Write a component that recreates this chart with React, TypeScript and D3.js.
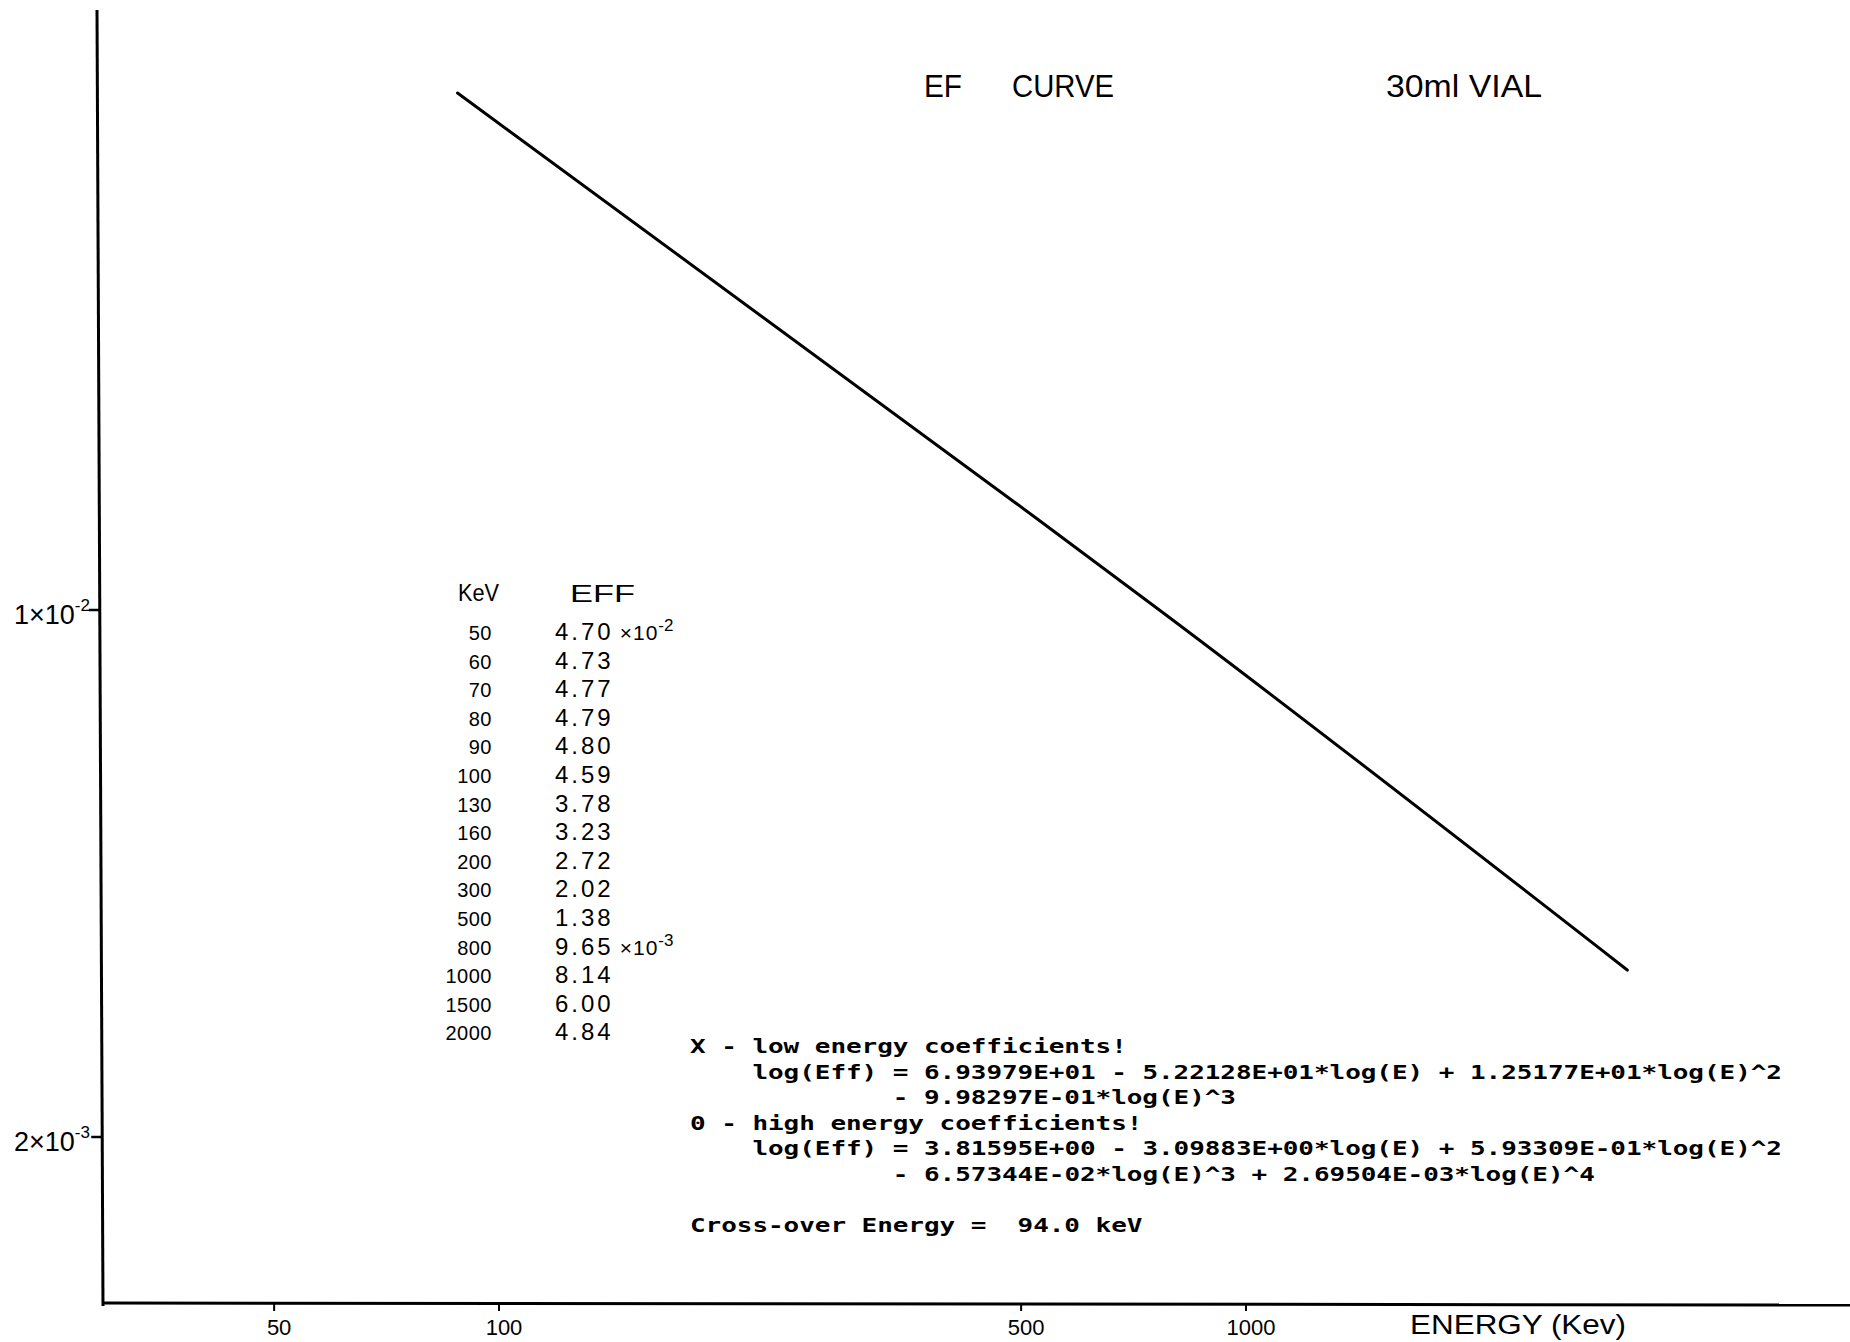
import React from "react";
import * as d3 from "d3";

// ---- data ----
const xTickValues = [50, 100, 500, 1000];
const xTickLabels = ["50", "100", "500", "1000"];

const yTickValues = [0.01, 0.002];
const yTickMantissa = ["1", "2"];
const yTickExponent = ["-2", "-3"];

// plotted efficiency curve (keV, efficiency)
const curveKeV = [88, 490, 772, 3240];
const curveEff = [0.0485, 0.0139, 0.00994, 0.00333];

// hand-written table
const tableKeV = [50, 60, 70, 80, 90, 100, 130, 160, 200, 300, 500, 800, 1000, 1500, 2000];
const tableEff = [4.7, 4.73, 4.77, 4.79, 4.8, 4.59, 3.78, 3.23, 2.72, 2.02, 1.38, 9.65, 8.14, 6.0, 4.84];
const tableExpRows = [0, 11];
const tableExpPow = ["-2", "-3"];

// printed fit coefficients
const fitLines = [
  "X - low energy coefficients!",
  "    log(Eff) = 6.93979E+01 - 5.22128E+01*log(E) + 1.25177E+01*log(E)^2",
  "             - 9.98297E-01*log(E)^3",
  "0 - high energy coefficients!",
  "    log(Eff) = 3.81595E+00 - 3.09883E+00*log(E) + 5.93309E-01*log(E)^2",
  "             - 6.57344E-02*log(E)^3 + 2.69504E-03*log(E)^4",
  "",
  "Cross-over Energy =  94.0 keV",
];

const HAND = "'Liberation Sans', 'DejaVu Sans', sans-serif";
const MONO = "'DejaVu Sans Mono', 'Liberation Mono', monospace";

export default function App() {
  const W = 1850;
  const H = 1342;

  const x = d3.scaleLog().domain([100, 1000]).range([499, 1246]);
  const y = d3.scaleLog().domain([0.002, 0.01]).range([1137, 610]);

  const axisY = 1303;
  const yAxisTop = 10;
  const yAxisTopX = 97;
  const yAxisBotX = 103;
  const axisXAt = (py: number) =>
    yAxisTopX + ((yAxisBotX - yAxisTopX) * (py - yAxisTop)) / (axisY - yAxisTop);

  const curve = curveKeV.map((k, i) => [k, curveEff[i]] as [number, number]);
  const lineGen = d3
    .line<[number, number]>()
    .x((d) => x(d[0]))
    .y((d) => y(d[1]))
    .curve(d3.curveMonotoneX);

  const charW = 15.6;
  const fitX0 = 690;
  const fitY0 = 1053;
  const fitStep = 25.6;

  const rowY0 = 640;
  const rowStep = 28.6;

  return (
    <svg
      width={W}
      height={H}
      viewBox={`0 0 ${W} ${H}`}
      style={{ position: "absolute", left: 0, top: 0, background: "#fff" }}
    >
      <rect x={0} y={0} width={W} height={H} fill="#fff" />

      {/* axes */}
      <line x1={yAxisTopX} y1={yAxisTop} x2={yAxisBotX} y2={axisY + 3} stroke="#000" strokeWidth={3} />
      <line x1={yAxisBotX} y1={axisY} x2={W} y2={axisY + 2} stroke="#000" strokeWidth={3} />

      {/* x ticks */}
      {xTickValues.map((v, i) => (
        <g key={"xt" + i}>
          <line x1={x(v)} x2={x(v)} y1={axisY} y2={axisY + 8} stroke="#000" strokeWidth={2} />
          <text
            x={x(v) + 5}
            y={axisY + 32}
            textAnchor="middle"
            fontFamily={HAND}
            fontSize={22}
            fill="#000"
          >
            {xTickLabels[i]}
          </text>
        </g>
      ))}
      <text x={1410} y={1334} fontFamily={HAND} fontSize={27} textLength={216} lengthAdjust="spacingAndGlyphs" fill="#000">
        ENERGY (Kev)
      </text>

      {/* y ticks */}
      {yTickValues.map((v, i) => {
        const py = y(v);
        const ax = axisXAt(py);
        return (
          <g key={"yt" + i}>
            <line x1={ax - 11} x2={ax} y1={py} y2={py} stroke="#000" strokeWidth={2.5} />
            <text x={14} y={py + 14} fontFamily={HAND} fontSize={27} fill="#000">
              {yTickMantissa[i]}×10
              <tspan dy={-13} fontSize={17}>
                {yTickExponent[i]}
              </tspan>
            </text>
          </g>
        );
      })}

      {/* curve */}
      <path d={lineGen(curve) || ""} fill="none" stroke="#000" strokeWidth={3} strokeLinecap="round" />

      {/* title */}
      <g fontFamily="'Liberation Sans', Arial, sans-serif" fontSize={32} fill="#000">
        <text x={924} y={97} textLength={38} lengthAdjust="spacingAndGlyphs">EF</text>
        <text x={1012} y={97} textLength={102} lengthAdjust="spacingAndGlyphs">CURVE</text>
        <text x={1386} y={97} textLength={156} lengthAdjust="spacingAndGlyphs">30ml VIAL</text>
      </g>

      {/* hand-written table */}
      <g fontFamily={HAND} fill="#000">
        <text x={458} y={601} fontSize={24} textLength={41} lengthAdjust="spacingAndGlyphs">KeV</text>
        <text x={570} y={602} fontSize={24} textLength={65} lengthAdjust="spacingAndGlyphs">EFF</text>
        {tableKeV.map((k, i) => {
          const ey = rowY0 + i * rowStep;
          const ei = tableExpRows.indexOf(i);
          return (
            <g key={"row" + i}>
              <text x={492} y={ey} fontSize={20} textAnchor="end" letterSpacing={0.5}>
                {String(k)}
              </text>
              <text x={555} y={ey} fontSize={24} letterSpacing={3}>
                {tableEff[i].toFixed(2)}
                {ei >= 0 ? (
                  <>
                    <tspan fontSize={21} letterSpacing={1} dx={6}>×10</tspan>
                    <tspan fontSize={17} dy={-9} letterSpacing={0}>{tableExpPow[ei]}</tspan>
                  </>
                ) : null}
              </text>
            </g>
          );
        })}
      </g>

      {/* printed fit text */}
      {fitLines.map((ln, i) => {
        if (!ln.trim()) return null;
        const lead = ln.length - ln.trimStart().length;
        const txt = ln.trimStart();
        const tx = fitX0 + lead * charW;
        const ty = fitY0 + i * fitStep;
        return (
          <g key={"fit" + i} transform={`translate(${tx},${ty}) scale(1,0.74)`}>
            <text
              x={0}
              y={0}
              fontFamily={MONO}
              fontWeight="bold"
              fontSize={26}
              textLength={txt.length * charW}
              lengthAdjust="spacing"
              fill="#000"
              style={{ whiteSpace: "pre" }}
            >
              {txt}
            </text>
          </g>
        );
      })}
    </svg>
  );
}
